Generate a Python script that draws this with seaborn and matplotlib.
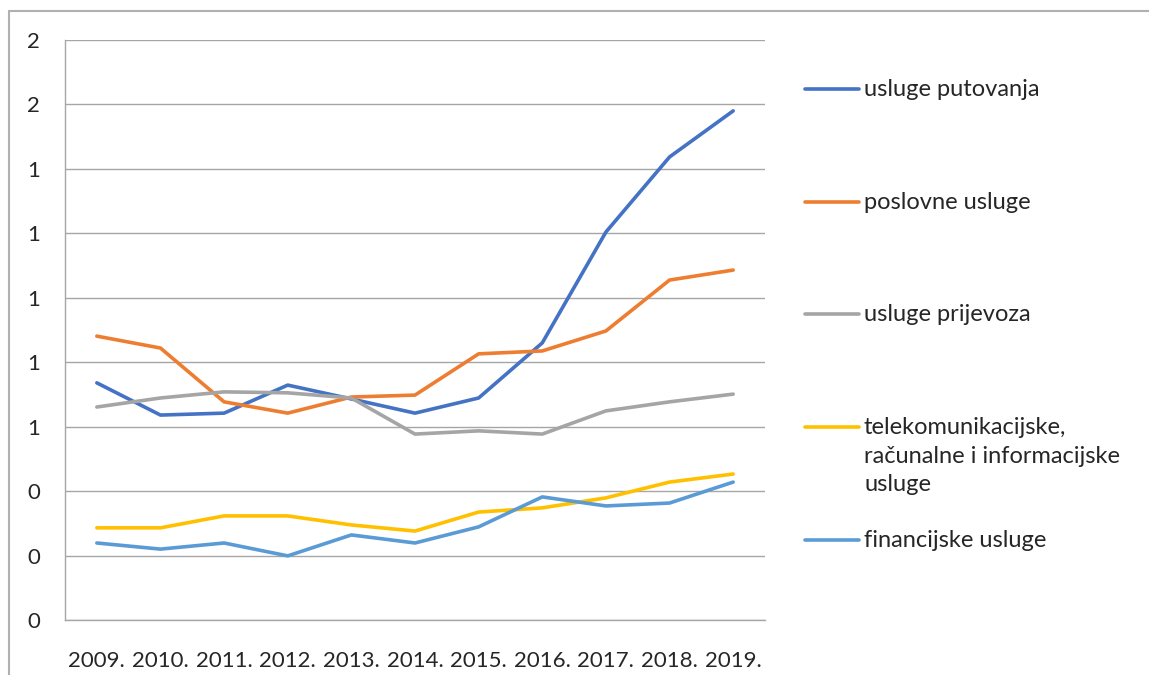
import pandas as pd
import matplotlib.pyplot as plt
import matplotlib.ticker as mticker
from matplotlib.lines import Line2D
import seaborn as sns

# Podaci (očitani s grafa)
years = ['2009.', '2010.', '2011.', '2012.', '2013.', '2014.', '2015.', '2016.', '2017.', '2018.', '2019.']
putovanja = [0.736, 0.636, 0.642, 0.729, 0.686, 0.642, 0.689, 0.860, 1.204, 1.437, 1.580]
poslovne = [0.881, 0.844, 0.677, 0.642, 0.692, 0.698, 0.826, 0.835, 0.897, 1.055, 1.086]
prijevoz = [0.661, 0.689, 0.708, 0.705, 0.689, 0.577, 0.587, 0.577, 0.649, 0.677, 0.701]
telekom = [0.286, 0.286, 0.323, 0.323, 0.295, 0.276, 0.335, 0.348, 0.379, 0.428, 0.453]
financijske = [0.239, 0.220, 0.239, 0.199, 0.264, 0.239, 0.289, 0.382, 0.354, 0.363, 0.428]

series = {
    'usluge putovanja': putovanja,
    'poslovne usluge': poslovne,
    'usluge prijevoza': prijevoz,
    'telekomunikacijske,\nračunalne i informacijske\nusluge': telekom,
    'financijske usluge': financijske,
}
colors = ['#4472C4', '#ED7D31', '#A5A5A5', '#FFC000', '#5B9BD5']

rows = []
for name, vals in series.items():
    for i, v in enumerate(vals):
        rows.append({'idx': i, 'value': v, 'serija': name})
df = pd.DataFrame(rows)

sns.set_style('white')
plt.rcParams['font.family'] = ['Lato', 'DejaVu Sans']

W, H = 1149, 675
fig = plt.figure(figsize=(W / 100, H / 100), dpi=100)
ax = fig.add_axes([65 / W, 55 / H, 700 / W, 580 / H])

sns.lineplot(data=df, x='idx', y='value', hue='serija', palette=colors,
             linewidth=2.6, ax=ax, legend=False)

ax.set_xlim(-0.5, len(years) - 0.5)
ax.set_ylim(0, 1.8)
ax.yaxis.set_major_locator(mticker.MultipleLocator(0.2))
ax.yaxis.set_major_formatter(mticker.FormatStrFormatter('%.0f'))
ax.set_xticks(range(len(years)))
ax.set_xticklabels(years)
ax.set_xticks([i - 0.5 for i in range(len(years) + 1)], minor=True)
ax.tick_params(axis='x', which='major', length=0, pad=22, labelsize=16)
ax.tick_params(axis='x', which='minor', length=5, color='#a6a6a6', width=1)
ax.tick_params(axis='y', length=6, color='#a6a6a6', width=1, pad=12, labelsize=16)
ax.grid(axis='y', color='#a6a6a6', linewidth=1)
ax.set_axisbelow(True)
ax.set_xlabel('')
ax.set_ylabel('')
for s in ['top', 'right']:
    ax.spines[s].set_visible(False)
for s in ['left', 'bottom']:
    ax.spines[s].set_color('#a6a6a6')
    ax.spines[s].set_linewidth(1)

# legenda desno, jednako razmaknute stavke (linija uz prvi red teksta)
for k, (name, c) in enumerate(zip(series.keys(), colors)):
    y = 1 - (89 + 112.7 * k) / H
    fig.add_artist(Line2D([805 / W, 859 / W], [y, y], color=c, linewidth=2.6,
                          solid_capstyle='round'))
    fig.text(864 / W, y + 10 / H, name, fontsize=17, va='top', ha='left',
             linespacing=1.45)

# okvir slike (samo lijevo i gore)
fig.add_artist(Line2D([8.5 / W, 8.5 / W], [0, 1 - 10.5 / H], color='#b0b0b0', linewidth=1.5))
fig.add_artist(Line2D([8.5 / W, 1], [1 - 10.5 / H, 1 - 10.5 / H], color='#b0b0b0', linewidth=1.5))

fig.savefig('out.png', dpi=100)
